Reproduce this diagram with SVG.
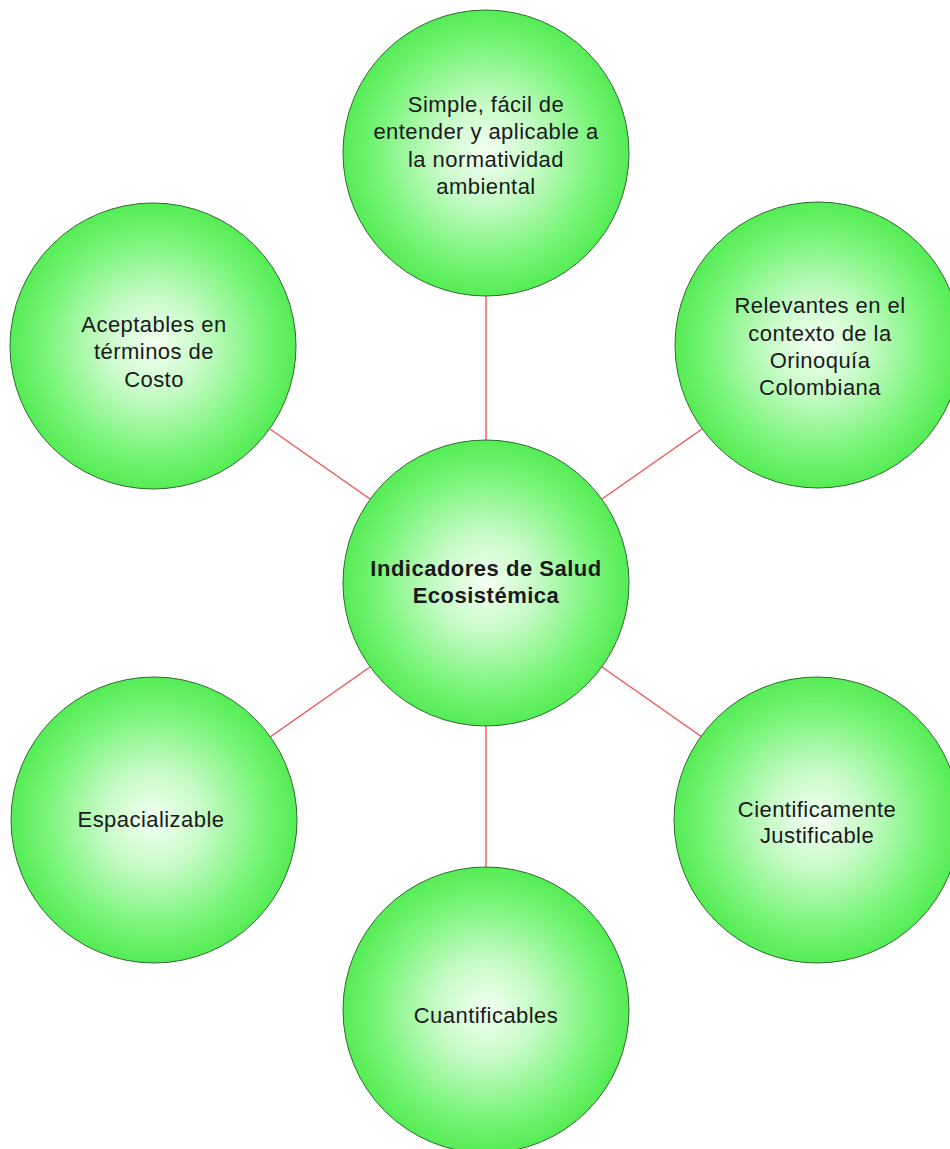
<svg xmlns="http://www.w3.org/2000/svg" width="950" height="1149" viewBox="0 0 950 1149">
  <style>
    .bubble { fill: url(#glow); stroke: #2f6b2f; stroke-width: 1; }
    .label { font-family: "Liberation Sans", Arial, sans-serif; font-size: 22px; letter-spacing: 0.45px; fill: #1a1a1a; text-anchor: middle; }
    .hub { font-weight: bold; letter-spacing: 0.5px; }
    .link { stroke: #f05050; stroke-width: 1.3; fill: none; }
  </style>
  <defs>
    <radialGradient id="glow" cx="0.5" cy="0.5" r="0.5">
      <stop offset="0" stop-color="#f4fff4"/>
      <stop offset="0.35" stop-color="#c6fbc6"/>
      <stop offset="0.75" stop-color="#7af57a"/>
      <stop offset="1" stop-color="#55ec55"/>
    </radialGradient>
  </defs>
  <rect width="950" height="1149" fill="#ffffff"/>

  <g id="connectors">
    <line class="link" x1="486" y1="296" x2="486" y2="440"/>
    <line class="link" x1="270" y1="429" x2="370" y2="499"/>
    <line class="link" x1="702" y1="429" x2="602" y2="499"/>
    <line class="link" x1="270" y1="737" x2="370" y2="667"/>
    <line class="link" x1="702" y1="737" x2="602" y2="667"/>
    <line class="link" x1="486" y1="726" x2="486" y2="867"/>
  </g>

  <g id="node-top">
    <circle class="bubble" cx="486" cy="153" r="143"/>
    <text class="label" x="486" y="112">Simple, fácil de</text>
    <text class="label" x="486" y="139">entender y aplicable a</text>
    <text class="label" x="486" y="167">la normatividad</text>
    <text class="label" x="486" y="194">ambiental</text>
  </g>

  <g id="node-top-left">
    <circle class="bubble" cx="153" cy="346" r="143"/>
    <text class="label" x="154" y="332">Aceptables en</text>
    <text class="label" x="154" y="359">términos de</text>
    <text class="label" x="154" y="387">Costo</text>
  </g>

  <g id="node-top-right">
    <circle class="bubble" cx="818" cy="345" r="143"/>
    <text class="label" x="820" y="313">Relevantes en el</text>
    <text class="label" x="820" y="341">contexto de la</text>
    <text class="label" x="820" y="368">Orinoquía</text>
    <text class="label" x="820" y="395">Colombiana</text>
  </g>

  <g id="node-center">
    <circle class="bubble" cx="486" cy="583" r="143"/>
    <text class="label hub" x="486" y="576">Indicadores de Salud</text>
    <text class="label hub" x="486" y="603">Ecosistémica</text>
  </g>

  <g id="node-bottom-left">
    <circle class="bubble" cx="154" cy="820" r="143"/>
    <text class="label" x="151" y="827">Espacializable</text>
  </g>

  <g id="node-bottom-right">
    <circle class="bubble" cx="817" cy="820" r="143"/>
    <text class="label" x="817" y="817">Cientificamente</text>
    <text class="label" x="817" y="843">Justificable</text>
  </g>

  <g id="node-bottom">
    <circle class="bubble" cx="486" cy="1010" r="143"/>
    <text class="label" x="486" y="1023">Cuantificables</text>
  </g>
</svg>
